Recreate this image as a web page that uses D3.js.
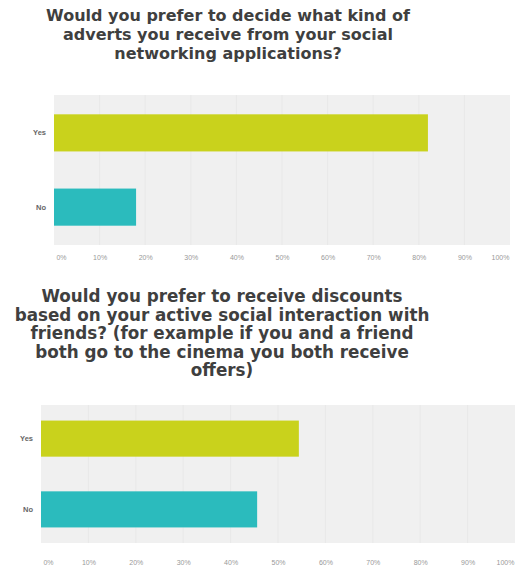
<!DOCTYPE html>
<html>
<head>
<meta charset="utf-8">
<script src="https://cdn.jsdelivr.net/npm/d3@7"></script>
<style>
  body { margin: 0; background: #fff; }
  svg { display: block; }
  .title { font-family: "DejaVu Sans", Verdana, sans-serif; font-weight: bold; fill: #3f3f3f; }
  .cat { font-family: "Liberation Sans", Arial, sans-serif; font-size: 7.5px; font-weight: bold; fill: #666; }
  .tick text { font-family: "Liberation Sans", Arial, sans-serif; font-size: 7px; fill: #999; }
</style>
</head>
<body>
<svg width="519" height="571"></svg>
<script>
// answer categories, shared by both questions
var answers = ["Yes", "No"];
var barColors = ["#c9d21c", "#2bbbbd"];

// question 1
var title1 = ["Would you prefer to decide what kind of",
              "adverts you receive from your social",
              "networking applications?"];
var values1 = [82, 18];

// question 2
var title2 = ["Would you prefer to receive discounts",
              "based on your active social interaction with",
              "friends? (for example if you and a friend",
              "both go to the cinema you both receive",
              "offers)"];
var values2 = [54.4, 45.6];

var tickValues = [0, 10, 20, 30, 40, 50, 60, 70, 80, 90, 100];

var svg = d3.select("svg");

var drawChart = function(lines, values, box) {
  // title
  var t = svg.append("text")
             .attr("class", "title")
             .attr("text-anchor", "middle")
             .attr("font-size", box.titleSize + "px");
  lines.forEach(function(line, i) {
    t.append("tspan")
     .attr("x", box.titleX)
     .attr("y", box.titleY + i * box.lineH)
     .text(line);
  });

  var x = d3.scaleLinear().domain([0, 100]).range([box.left, box.right]);
  var y = d3.scaleBand().domain(answers)
            .range([box.top, box.bottom])
            .paddingInner(box.padIn).paddingOuter(box.padOut);

  var g = svg.append("g");

  g.append("rect")
   .attr("x", box.left)
   .attr("y", box.top)
   .attr("width", box.right - box.left)
   .attr("height", box.bottom - box.top)
   .attr("fill", "#f0f0f0");

  // faint gridlines
  g.selectAll(".grid")
   .data(tickValues.slice(1, -1))
   .enter()
   .append("line")
   .attr("x1", function(d) { return x(d); })
   .attr("x2", function(d) { return x(d); })
   .attr("y1", box.top)
   .attr("y2", box.bottom)
   .attr("stroke", "#e8e8e8")
   .attr("stroke-width", 1);

  g.selectAll(".bar")
   .data(values)
   .enter()
   .append("rect")
   .attr("x", x(0))
   .attr("y", function(d, i) { return y(answers[i]); })
   .attr("width", function(d) { return x(d) - x(0); })
   .attr("height", y.bandwidth())
   .attr("fill", function(d, i) { return barColors[i]; });

  g.selectAll(".cat")
   .data(answers)
   .enter()
   .append("text")
   .attr("class", "cat")
   .attr("x", box.left - 8)
   .attr("y", function(d) { return y(d) + y.bandwidth() / 2 + 2.5; })
   .attr("text-anchor", "end")
   .text(function(d) { return d; });

  var axis = g.append("g")
              .attr("transform", "translate(0," + box.axisY + ")")
              .call(d3.axisBottom(x)
                      .tickValues(tickValues)
                      .tickSize(0)
                      .tickFormat(function(d) { return d + "%"; }));
  axis.select(".domain").remove();
  axis.selectAll(".tick text")
      .attr("dx", function(d) { return d == 0 ? 7 : (d == 100 ? -10 : 0); });
};

drawChart(title1, values1, {
  titleX: 228, titleY: 21, lineH: 19, titleSize: 16,
  left: 54, right: 510, top: 95, bottom: 245,
  padIn: 0.5, padOut: 0.26, axisY: 252
});

drawChart(title2, values2, {
  titleX: 222, titleY: 302, lineH: 18.5, titleSize: 16.8,
  left: 41, right: 515, top: 405, bottom: 543,
  padIn: 0.49, padOut: 0.22, axisY: 557
});
</script>
</body>
</html>
